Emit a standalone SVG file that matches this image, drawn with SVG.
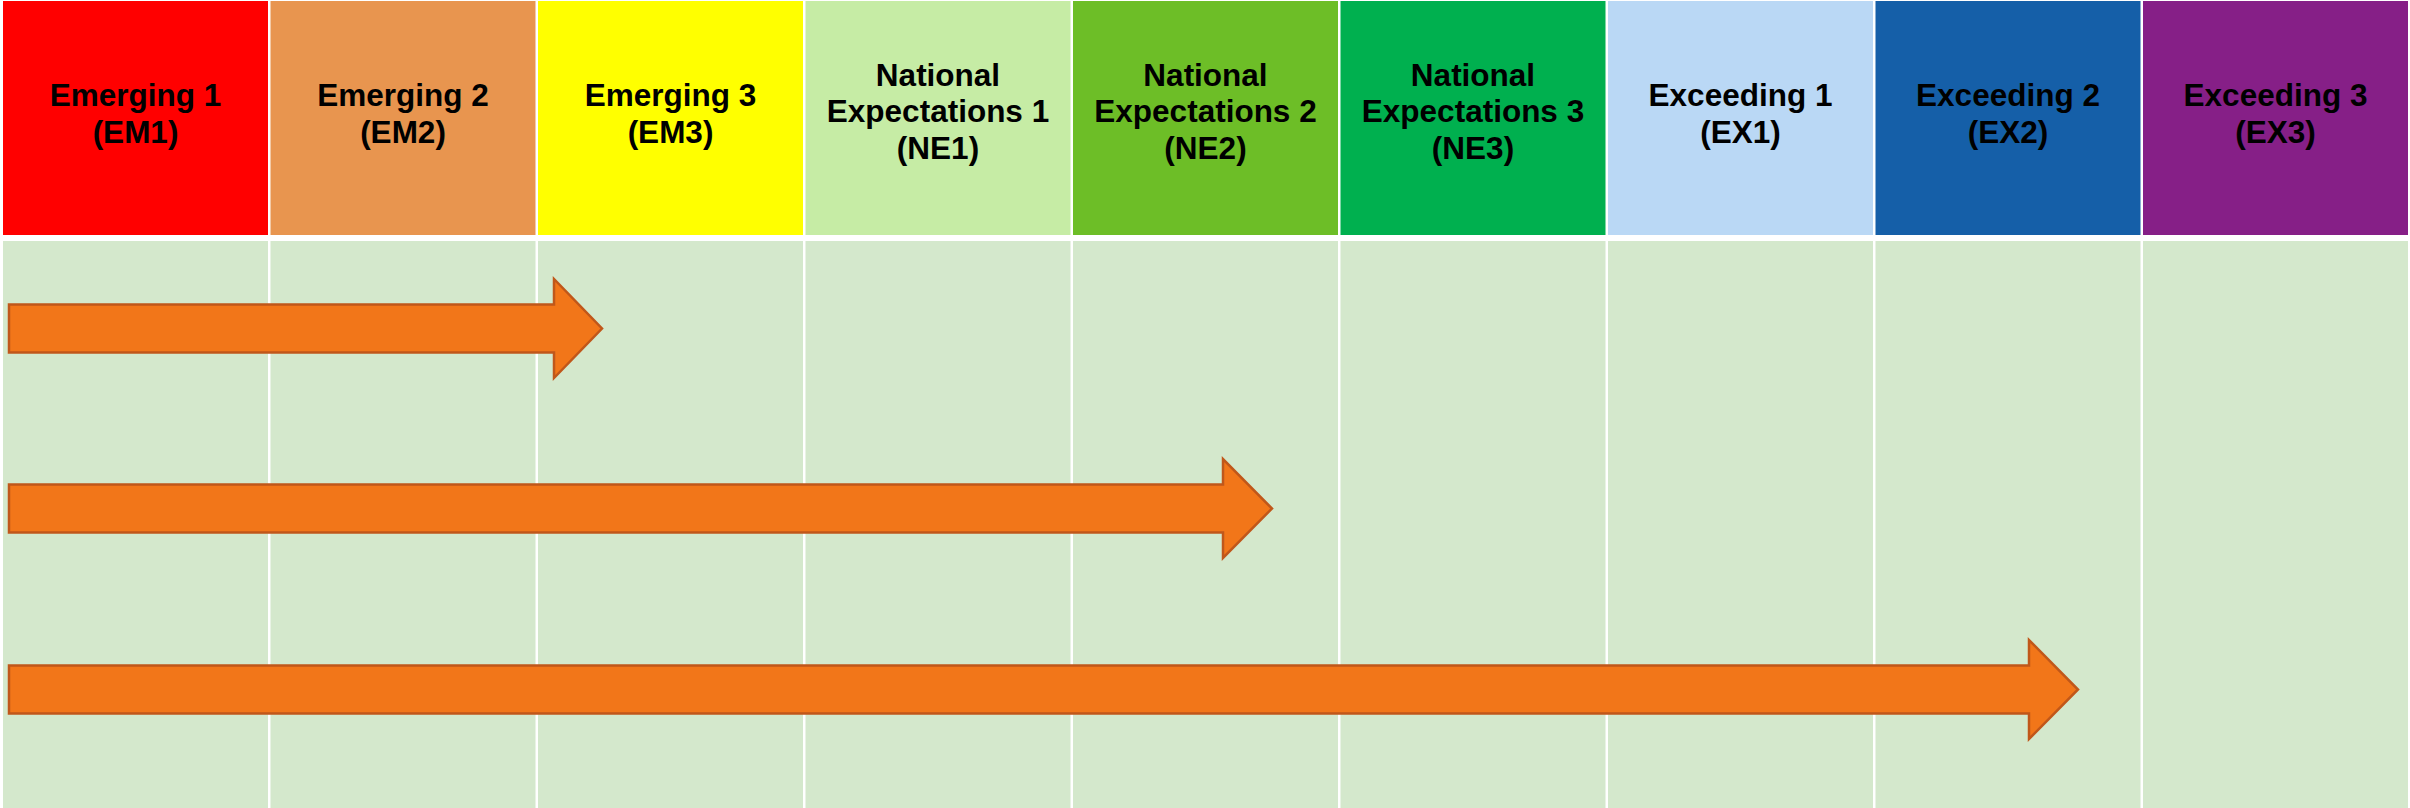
<svg xmlns="http://www.w3.org/2000/svg" width="2410" height="808" viewBox="0 0 2410 808">
<style>
.lbl{font-family:"Liberation Sans",Arial,sans-serif;font-weight:bold;font-size:31.5px;fill:#000;text-anchor:middle}
.body{fill:#D4E8CC}
.arrow{fill:#F27619;stroke:#C0571A;stroke-width:2.5;stroke-linejoin:miter}
</style>
<rect x="0" y="0" width="2410" height="808" fill="#FFFFFF"/>
<g id="header">
<g id="em1"><rect x="3" y="1" width="265" height="234" fill="#FF0000"/><text class="lbl" x="135.5" y="106">Emerging 1</text><text class="lbl" x="135.5" y="143">(EM1)</text></g>
<g id="em2"><rect x="270.5" y="1" width="265" height="234" fill="#E8954F"/><text class="lbl" x="403" y="106">Emerging 2</text><text class="lbl" x="403" y="143">(EM2)</text></g>
<g id="em3"><rect x="538" y="1" width="265" height="234" fill="#FFFF00"/><text class="lbl" x="670.5" y="106">Emerging 3</text><text class="lbl" x="670.5" y="143">(EM3)</text></g>
<g id="ne1"><rect x="805.5" y="1" width="265" height="234" fill="#C6ECA5"/><text class="lbl" x="938" y="86">National</text><text class="lbl" x="938" y="122">Expectations 1</text><text class="lbl" x="938" y="159">(NE1)</text></g>
<g id="ne2"><rect x="1073" y="1" width="265" height="234" fill="#6DBE27"/><text class="lbl" x="1205.5" y="86">National</text><text class="lbl" x="1205.5" y="122">Expectations 2</text><text class="lbl" x="1205.5" y="159">(NE2)</text></g>
<g id="ne3"><rect x="1340.5" y="1" width="265" height="234" fill="#00B04F"/><text class="lbl" x="1473" y="86">National</text><text class="lbl" x="1473" y="122">Expectations 3</text><text class="lbl" x="1473" y="159">(NE3)</text></g>
<g id="ex1"><rect x="1608" y="1" width="265" height="234" fill="#BAD8F5"/><text class="lbl" x="1740.5" y="106">Exceeding 1</text><text class="lbl" x="1740.5" y="143">(EX1)</text></g>
<g id="ex2"><rect x="1875.5" y="1" width="265" height="234" fill="#155FA8"/><text class="lbl" x="2008" y="106">Exceeding 2</text><text class="lbl" x="2008" y="143">(EX2)</text></g>
<g id="ex3"><rect x="2143" y="1" width="265" height="234" fill="#861F87"/><text class="lbl" x="2275.5" y="106">Exceeding 3</text><text class="lbl" x="2275.5" y="143">(EX3)</text></g>
</g>
<g id="body">
<rect class="body" x="3" y="241" width="265" height="567"/>
<rect class="body" x="270.5" y="241" width="265" height="567"/>
<rect class="body" x="538" y="241" width="265" height="567"/>
<rect class="body" x="805.5" y="241" width="265" height="567"/>
<rect class="body" x="1073" y="241" width="265" height="567"/>
<rect class="body" x="1340.5" y="241" width="265" height="567"/>
<rect class="body" x="1608" y="241" width="265" height="567"/>
<rect class="body" x="1875.5" y="241" width="265" height="567"/>
<rect class="body" x="2143" y="241" width="265" height="567"/>
</g>
<g id="connectors">
<polygon class="arrow" points="9,304.5 554,304.5 554,279 602,328.5 554,378 554,352.5 9,352.5"/>
<polygon class="arrow" points="9,484.5 1223,484.5 1223,459 1272,508.5 1223,558 1223,532.5 9,532.5"/>
<polygon class="arrow" points="9,665.5 2029,665.5 2029,640 2078,689.5 2029,739 2029,713.5 9,713.5"/>
</g>
</svg>
